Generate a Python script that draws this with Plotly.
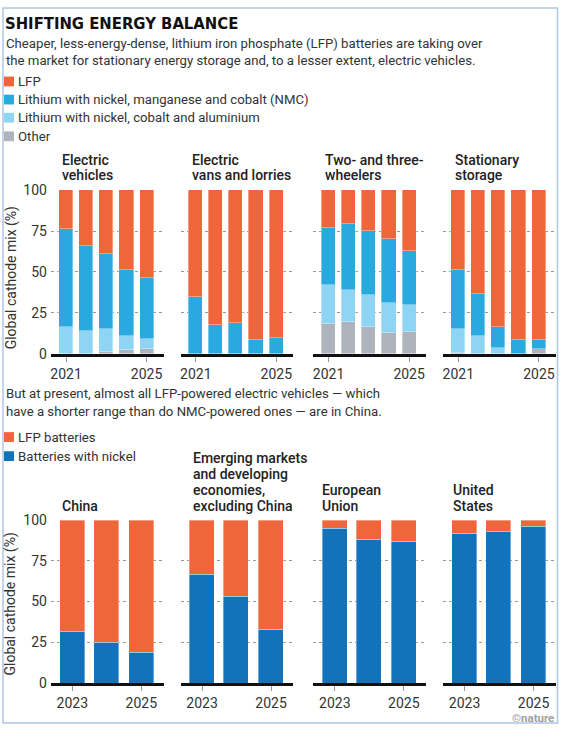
import plotly.graph_objects as go

W, H = 561, 734

# ---------------- data ----------------
years_top = [2021, 2022, 2023, 2024, 2025]
top_panels = ["Electric<br>vehicles", "Electric<br>vans and lorries",
              "Two- and three-<br>wheelers", "Stationary<br>storage"]
ev_other = [0, 0, 1, 2, 2.5]
ev_nca = [16, 13.5, 14, 8.5, 6.5]
ev_nmc = [60, 52.5, 46, 40.5, 37]
ev_lfp = [24, 34, 39, 49, 54]

vans_other = [0, 0, 0, 0, 0]
vans_nca = [0, 0, 0, 0, 0]
vans_nmc = [34.5, 17.5, 18.5, 8.5, 9.5]
vans_lfp = [65.5, 82.5, 81.5, 91.5, 90.5]

two_other = [18, 19, 16, 12.5, 13]
two_nca = [24, 20, 20, 18.5, 16.5]
two_nmc = [35, 40.5, 39, 39, 33.5]
two_lfp = [23, 20.5, 25, 30, 37]

stat_other = [0.5, 0, 0, 0, 2.5]
stat_nca = [14.5, 10.5, 3.5, 0, 0]
stat_nmc = [36, 26, 13, 8, 6]
stat_lfp = [49, 63.5, 83.5, 92, 91.5]

years_bot = [2023, 2024, 2025]
bot_panels = ["China", "Emerging markets<br>and developing<br>economies,<br>excluding China",
              "European<br>Union", "United<br>States"]
china_ni = [32, 25, 19]
china_lfp = [68, 75, 81]
emerg_ni = [67, 53.5, 33]
emerg_lfp = [33, 46.5, 67]
eu_ni = [95, 88, 87]
eu_lfp = [5, 12, 13]
us_ni = [92, 93, 96]
us_lfp = [8, 7, 4]

top_series_names = ["Other", "Lithium with nickel, cobalt and aluminium",
                    "Lithium with nickel, manganese and cobalt (NMC)", "LFP"]
bot_series_names = ["Batteries with nickel", "LFP batteries"]

# ---------------- styles ----------------
C_LFP = "#EE663A"
C_NMC = "#29A9DF"
C_NCA = "#8ED4F3"
C_OTH = "#AEB4BC"
C_NI = "#1272BA"
TXT = "#222222"
FONT = "Roboto"

top_colors = [C_OTH, C_NCA, C_NMC, C_LFP]
bot_colors = [C_NI, C_LFP]


def px(x):
    return x / W


def py(y):
    return 1 - y / H


x_doms = [(50, 163), (180, 293), (313, 426), (443, 556)]
top_y = (354, 186)
bot_y = (690, 523)

fig = go.Figure()

top_data = [
    [ev_other, ev_nca, ev_nmc, ev_lfp],
    [vans_other, vans_nca, vans_nmc, vans_lfp],
    [two_other, two_nca, two_nmc, two_lfp],
    [stat_other, stat_nca, stat_nmc, stat_lfp],
]
bot_data = [
    [china_ni, china_lfp],
    [emerg_ni, emerg_lfp],
    [eu_ni, eu_lfp],
    [us_ni, us_lfp],
]

layout_axes = {}


def axis_setup(idx, dom_x, dom_y, xr, tickvals, show_y):
    sfx = "" if idx == 1 else str(idx)
    layout_axes["xaxis" + sfx] = dict(
        domain=[px(dom_x[0]), px(dom_x[1])], anchor="y" + sfx, range=xr,
        tickvals=tickvals, ticktext=[str(t) for t in tickvals],
        ticks="outside", ticklen=5, tickcolor="#999999", tickwidth=1,
        showline=True, linecolor="#111111", linewidth=3,
        showgrid=False, zeroline=False, fixedrange=True,
        tickfont=dict(family=FONT, size=14, color="#333333"),
    )
    layout_axes["yaxis" + sfx] = dict(
        domain=[py(dom_y[0]), py(dom_y[1])], anchor="x" + sfx, range=[0, 100.6],
        tickvals=[0, 25, 50, 75, 100], showticklabels=show_y,
        showgrid=True, gridcolor="#9a9a9a", griddash="dot", gridwidth=1,
        zeroline=False, showline=False, ticks="", ticklabelstandoff=3,
        tickfont=dict(family=FONT, size=14, color="#333333"), fixedrange=True,
    )


for i, series in enumerate(top_data):
    idx = i + 1
    sfx = "" if idx == 1 else str(idx)
    for name, vals, col in zip(top_series_names, series, top_colors):
        fig.add_trace(go.Bar(x=years_top, y=vals, name=name, marker_color=col,
                             marker_line_width=0.6, marker_line_color="rgba(255,255,255,0.6)",
                             width=0.7, xaxis="x" + sfx, yaxis="y" + sfx, showlegend=False))
    axis_setup(idx, x_doms[i], top_y, [2020.25, 2025.85], [2021, 2025], i == 0)

for i, series in enumerate(bot_data):
    idx = i + 5
    sfx = str(idx)
    for name, vals, col in zip(bot_series_names, series, bot_colors):
        fig.add_trace(go.Bar(x=years_bot, y=vals, name=name, marker_color=col,
                             marker_line_width=0.6, marker_line_color="rgba(255,255,255,0.6)",
                             width=0.72, xaxis="x" + sfx, yaxis="y" + sfx, showlegend=False))
    axis_setup(idx, x_doms[i], bot_y, [2022.38, 2025.65], [2023, 2025], i == 0)

ann = []
shapes = []


def text(x, y, s, size=14, color=TXT, weight=400, family=FONT, xanchor="left", yanchor="middle", angle=0):
    ann.append(dict(x=px(x), y=py(y), xref="paper", yref="paper", text=s, showarrow=False,
                    xanchor=xanchor, yanchor=yanchor, align="left", textangle=angle,
                    font=dict(family=family, size=size, color=color, weight=weight)))


# title
text(2, 17, "SHIFTING ENERGY BALANCE", size=16.5, color="#111111", weight=900,
     family="Liberation Sans Narrow, DejaVu Sans Condensed, Roboto")
text(3, 37, "Cheaper, less-energy-dense, lithium iron phosphate (LFP) batteries are taking over", size=13.2, color="#333333")
text(3, 55, "the market for stationary energy storage and, to a lesser extent, electric vehicles.", size=13.2, color="#333333")

# top legend
legend_top = [("LFP", C_LFP, 76), ("Lithium with nickel, manganese and cobalt (NMC)", C_NMC, 94.5),
              ("Lithium with nickel, cobalt and aluminium", C_NCA, 113), ("Other", C_OTH, 132)]
for s, c, y in legend_top:
    shapes.append(dict(type="rect", xref="paper", yref="paper", x0=px(3), x1=px(13),
                       y0=py(y - 5), y1=py(y + 5), fillcolor=c, line_width=0))
    text(15, y, s, size=13.2, color="#333333")

# second text block
text(3, 395, "But at present, almost all LFP-powered electric vehicles — which", size=13.2, color="#333333")
text(3, 413, "have a shorter range than do NMC-powered ones — are in China.", size=13.2, color="#333333")
legend_bot = [("LFP batteries", C_LFP, 439), ("Batteries with nickel", C_NI, 458.5)]
for s, c, y in legend_bot:
    shapes.append(dict(type="rect", xref="paper", yref="paper", x0=px(3), x1=px(13),
                       y0=py(y - 5), y1=py(y + 5), fillcolor=c, line_width=0))
    text(15, y, s, size=13.2, color="#333333")

# panel titles (each line placed separately to match tight line spacing)
top_title_x = [59, 189, 323, 453]
for s, x in zip(top_panels, top_title_x):
    lines = s.split("<br>")
    n = len(lines)
    for k, ln in enumerate(lines):
        text(x, 172 - (n - 1 - k) * 15.5, ln, size=14, weight=500)
bot_title_x = [59, 190, 320, 451]
for s, x in zip(bot_panels, bot_title_x):
    lines = s.split("<br>")
    n = len(lines)
    for k, ln in enumerate(lines):
        text(x, 509.5 - (n - 1 - k) * 16.5, ln, size=14, weight=500)

# y-axis titles
text(10, 276, "Global cathode mix (%)", size=14, color="#333333", xanchor="center", angle=-90)
text(10, 609, "Global cathode mix (%)", size=14, color="#333333", xanchor="center", angle=-90)

# credit
text(556, 726, "©nature", size=11.5, color="#A0A0A0", weight=700, xanchor="right")

# frame
shapes.append(dict(type="rect", xref="paper", yref="paper", x0=px(2), x1=px(557.5),
                   y0=py(731), y1=py(1), line=dict(color="#AFC6E6", width=1.5), fillcolor="rgba(0,0,0,0)"))

fig.update_layout(
    width=W, height=H, margin=dict(l=0, r=0, t=0, b=0),
    paper_bgcolor="white", plot_bgcolor="white",
    barmode="stack", bargap=0, showlegend=False,
    annotations=ann, shapes=shapes, **layout_axes,
)

fig.write_html("out.html", config={"displayModeBar": False},
               post_script="document.body.style.margin='0';document.body.style.overflow='hidden';")
